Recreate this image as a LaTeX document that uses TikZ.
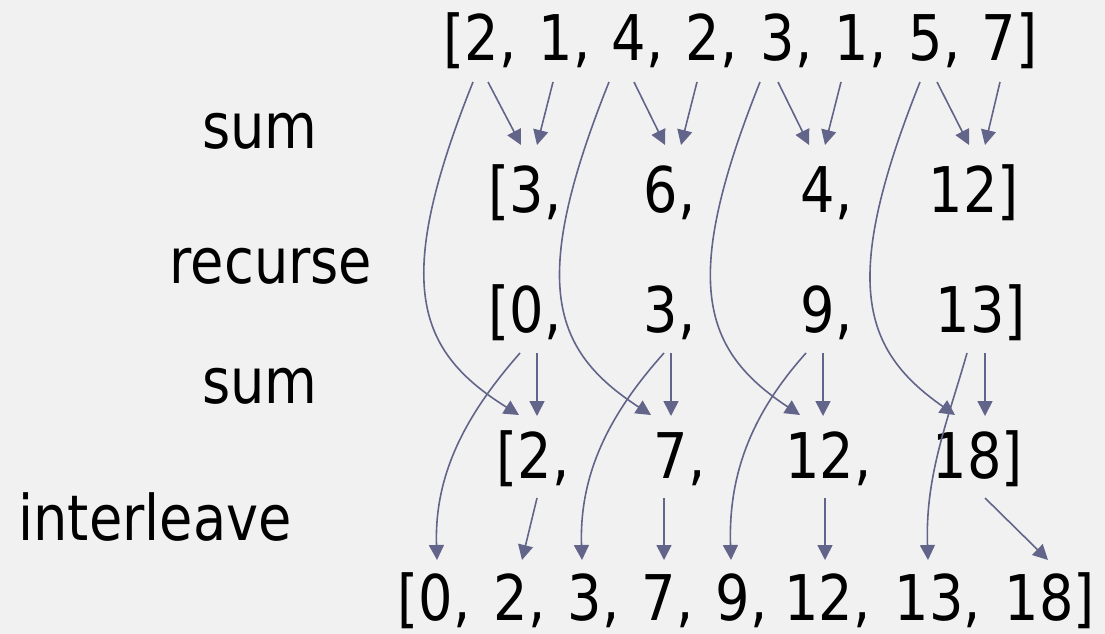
\documentclass[tikz,border=0pt]{standalone}
\usepackage{fontspec}
\setmainfont{DejaVu Sans}[FakeStretch=0.86]
\usetikzlibrary{calc,arrows.meta}
\definecolor{bgc}{RGB}{241,241,241}
\definecolor{arc}{RGB}{98,100,138}
\begin{document}
\begin{tikzpicture}[x=1pt,y=-1pt,
  bigtxt/.style={font=\fontsize{63}{70}\selectfont, inner sep=0pt, outer sep=0pt},
  numtxt/.style={bigtxt, anchor=base},
  punc/.style={bigtxt, anchor=base west},
  lbrk/.style={bigtxt, anchor=base east},
  labtxt/.style={bigtxt, anchor=base},
  arr/.style={draw=arc, line width=1.6pt, -{Triangle[length=15pt,width=15pt]}}]
\useasboundingbox (0,0) rectangle (1105,634);
\fill[bgc] (0,0) rectangle (1105,634);

% labels
\node[labtxt] (l1) at (260,148) {sum};
\node[labtxt] (l2) at (271,283) {recurse};
\node[labtxt] (l3) at (260,403) {sum};
\node[labtxt] (l4) at (155,540) {interleave};

% top row
\node[numtxt] (t0) at (482,60) {2};
\node[numtxt] (t1) at (556,60) {1};
\node[numtxt] (t2) at (629,60) {4};
\node[numtxt] (t3) at (703,60) {2};
\node[numtxt] (t4) at (778,60) {3};
\node[numtxt] (t5) at (852,60) {1};
\node[numtxt] (t6) at (926,60) {5};
\node[numtxt] (t7) at (999,60) {7};
\node[lbrk] (tl) at (t0.base west) {[};
\node[punc] (tr) at (t7.base east) {]};
\foreach \i in {0,...,6} {\node[punc] (tc\i) at (t\i.base east) {,};}

% row 2
\node[numtxt] (s0) at (527,212) {3};
\node[numtxt] (s1) at (661,212) {6};
\node[numtxt] (s2) at (818,212) {4};
\node[numtxt] (s3) at (963,212) {12};
\node[lbrk] (sl) at (s0.base west) {[};
\node[punc] (sr) at (s3.base east) {]};
\foreach \i in {0,1,2} {\node[punc] (sc\i) at (s\i.base east) {,};}

% row 3
\node[numtxt] (r0) at (527,332) {0};
\node[numtxt] (r1) at (661,332) {3};
\node[numtxt] (r2) at (818,332) {9};
\node[numtxt] (r3) at (970,332) {13};
\node[lbrk] (rl) at (r0.base west) {[};
\node[punc] (rr) at (r3.base east) {]};
\foreach \i in {0,1,2} {\node[punc] (rc\i) at (r\i.base east) {,};}

% row 4
\node[numtxt] (f0) at (535,478) {2};
\node[numtxt] (f1) at (671,478) {7};
\node[numtxt] (f2) at (820,478) {12};
\node[numtxt] (f3) at (967,478) {18};
\node[lbrk] (fl) at (f0.base west) {[};
\node[punc] (fr) at (f3.base east) {]};
\foreach \i in {0,1,2} {\node[punc] (fc\i) at (f\i.base east) {,};}

% bottom row
\node[numtxt] (b0) at (436,620) {0};
\node[numtxt] (b1) at (511,620) {2};
\node[numtxt] (b2) at (585,620) {3};
\node[numtxt] (b3) at (659,620) {7};
\node[numtxt] (b4) at (733,620) {9};
\node[numtxt] (b5) at (819,620) {12};
\node[numtxt] (b6) at (929,620) {13};
\node[numtxt] (b7) at (1039,620) {18};
\node[lbrk] (bl) at (b0.base west) {[};
\node[punc] (br) at (b7.base east) {]};
\foreach \i in {0,...,6} {\node[punc] (bc\i) at (b\i.base east) {,};}

% sum arrows: top -> row 2
\draw[arr] ($(t0.base)+(6,22)$) -- ($(s0.base)+(-6,-67)$);
\draw[arr] ($(t1.base)+(-3,22)$) -- ($(s0.base)+(10,-67)$);
\draw[arr] ($(t2.base)+(5,22)$) -- ($(s1.base)+(4,-67)$);
\draw[arr] ($(t3.base)+(-6,22)$) -- ($(s1.base)+(20,-67)$);
\draw[arr] ($(t4.base)+(0,22)$) -- ($(s2.base)+(-9,-67)$);
\draw[arr] ($(t5.base)+(-11,22)$) -- ($(s2.base)+(7,-67)$);
\draw[arr] ($(t6.base)+(11,22)$) -- ($(s3.base)+(6,-67)$);
\draw[arr] ($(t7.base)+(1,22)$) -- ($(s3.base)+(22,-67)$);

% long curves: top even elements -> row 4
\draw[arr] ($(t0.base)+(-9,22)$) .. controls ($(t0.base)+(-89,222)$) and ($(t0.base)+(-67,290)$) .. ($(f0.base)+(-16,-63)$);
\draw[arr] ($(t2.base)+(-20,22)$) .. controls ($(t2.base)+(-100,222)$) and ($(t2.base)+(-78,290)$) .. ($(f1.base)+(-20,-63)$);
\draw[arr] ($(t4.base)+(-18,22)$) .. controls ($(t4.base)+(-98,222)$) and ($(t4.base)+(-76,290)$) .. ($(f2.base)+(-20,-63)$);
\draw[arr] ($(t6.base)+(-6,22)$) .. controls ($(t6.base)+(-86,222)$) and ($(t6.base)+(-64,290)$) .. ($(f3.base)+(-12,-63)$);

% row 3 -> row 4 straight
\draw[arr] ($(r0.base)+(10,21)$) -- ($(f0.base)+(2,-62)$);
\draw[arr] ($(r1.base)+(10,21)$) -- ($(f1.base)+(0,-62)$);
\draw[arr] ($(r2.base)+(5,21)$) -- ($(f2.base)+(3,-62)$);
\draw[arr] ($(r3.base)+(15,21)$) -- ($(f3.base)+(18,-62)$);

% row 3 -> bottom curves
\draw[arr] ($(r0.base)+(-7,21)$) .. controls ($(r0.base)+(-57,78)$) and ($(b0.base)+(-2,-150)$) .. ($(b0.base)+(1,-60)$);
\draw[arr] ($(r1.base)+(3,21)$) .. controls ($(r1.base)+(-48,78)$) and ($(b2.base)+(-6,-150)$) .. ($(b2.base)+(-3,-60)$);
\draw[arr] ($(r2.base)+(-12,21)$) .. controls ($(r2.base)+(-63,78)$) and ($(b4.base)+(-5,-150)$) .. ($(b4.base)+(-2,-60)$);
\draw[arr] ($(r3.base)+(-3,21)$) .. controls ($(r3.base)+(-22,88)$) and ($(b6.base)+(-4,-145)$) .. ($(b6.base)+(-1,-60)$);

% row 4 -> bottom straight
\draw[arr] ($(f0.base)+(2,20)$) -- ($(b1.base)+(11,-60)$);
\draw[arr] ($(f1.base)+(-7,20)$) -- ($(b3.base)+(5,-60)$);
\draw[arr] ($(f2.base)+(5,20)$) -- ($(b5.base)+(6,-60)$);
\draw[arr] ($(f3.base)+(18,20)$) -- ($(b7.base)+(9,-60)$);
\end{tikzpicture}
\end{document}
